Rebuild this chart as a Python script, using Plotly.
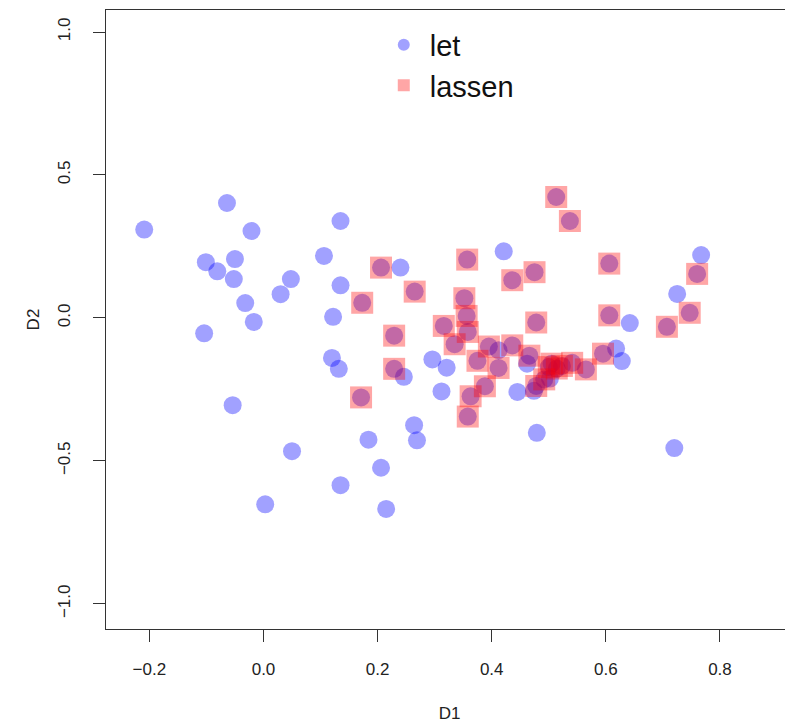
import plotly.graph_objects as go

# "let" observations (blue circles)
let_x = [-0.209, -0.064, -0.021, -0.050, -0.101, -0.081, -0.052, 0.048, 0.030, -0.032,
         -0.017, -0.104, 0.120, 0.132, 0.246, 0.312, -0.054, 0.264, 0.269, 0.184,
         0.050, 0.206, 0.135, 0.003, 0.215, 0.135, 0.106, 0.240, 0.135, 0.122,
         0.296, 0.321, 0.421, 0.642, 0.412, 0.618, 0.628, 0.462, 0.767, 0.725,
         0.720, 0.445, 0.474, 0.502, 0.479]
let_y = [0.309, 0.402, 0.304, 0.206, 0.195, 0.163, 0.136, 0.136, 0.083, 0.052,
         -0.014, -0.054, -0.140, -0.178, -0.206, -0.257, -0.305, -0.375, -0.428, -0.426,
         -0.466, -0.524, -0.585, -0.652, -0.668, 0.339, 0.217, 0.176, 0.114, 0.004,
         -0.145, -0.174, 0.233, -0.018, -0.113, -0.107, -0.151, -0.160, 0.220, 0.084,
         -0.455, -0.259, -0.255, -0.212, -0.402]

# "lassen" observations (red squares, drawn over a blue circle)
lassen_x = [0.229, 0.171, 0.206, 0.357, 0.265, 0.173, 0.352, 0.356, 0.316, 0.358,
            0.229, 0.335, 0.395, 0.375, 0.513, 0.537, 0.606, 0.475, 0.436, 0.606,
            0.478, 0.436, 0.595, 0.466, 0.505, 0.541, 0.412, 0.565, 0.760, 0.747,
            0.707, 0.514, 0.523, 0.500, 0.388, 0.363, 0.358, 0.478, 0.492]
lassen_y = [-0.178, -0.278, 0.176, 0.204, 0.092, 0.053, 0.069, 0.007, -0.028, -0.049,
            -0.062, -0.092, -0.100, -0.150, 0.423, 0.339, 0.190, 0.160, 0.132, 0.009,
            -0.016, -0.096, -0.125, -0.132, -0.160, -0.157, -0.175, -0.180, 0.154, 0.018,
            -0.031, -0.177, -0.168, -0.172, -0.239, -0.274, -0.345, -0.238, -0.215]

x_ticks = [-0.2, 0.0, 0.2, 0.4, 0.6, 0.8]
y_ticks = [-1.0, -0.5, 0.0, 0.5, 1.0]

BLUE = "rgba(0,0,255,0.37)"
RED = "rgba(255,0,0,0.35)"
FONT = "Liberation Sans, Arial, sans-serif"

fig = go.Figure()
fig.add_trace(go.Scatter(x=let_x, y=let_y, mode="markers", name="let",
                         marker=dict(symbol="circle", size=18, color=BLUE, line=dict(width=0))))
fig.add_trace(go.Scatter(x=lassen_x, y=lassen_y, mode="markers", name="lassen-circle",
                         showlegend=False,
                         marker=dict(symbol="circle", size=18, color=BLUE, line=dict(width=0))))
fig.add_trace(go.Scatter(x=lassen_x, y=lassen_y, mode="markers", name="lassen",
                         marker=dict(symbol="square", size=22, color=RED, line=dict(width=0))))

axis_common = dict(showgrid=False, zeroline=False, showline=True, linecolor="#333",
                   linewidth=1.3, ticks="outside", ticklen=12, tickwidth=1.3,
                   tickcolor="#333", tickfont=dict(size=17, color="#222", family=FONT),
                   tickformat=".1f", automargin=False)

fig.update_layout(
    width=793, height=725,
    margin=dict(l=98, r=8, t=2, b=104),
    paper_bgcolor="white", plot_bgcolor="white",
    font=dict(family=FONT, color="#222"),
    xaxis=dict(range=[-0.276, 0.928], tickvals=x_ticks, mirror=True,
               ticklabelstandoff=12,
               title=dict(text="D1", font=dict(size=17, family=FONT), standoff=29),
               **axis_common),
    yaxis=dict(range=[-1.088, 1.077], tickvals=y_ticks, tickangle=-90,
               ticklabelstandoff=16,
               title=dict(text="D2", font=dict(size=17, family=FONT), standoff=11),
               **axis_common),
    legend=dict(x=0.3956, y=0.985, xanchor="left", yanchor="top",
                bgcolor="rgba(0,0,0,0)", borderwidth=0,
                font=dict(size=29, family=FONT, color="#111"),
                itemsizing="constant", itemwidth=42, tracegroupgap=0),
    showlegend=True,
)

fig.write_html("out.html")
